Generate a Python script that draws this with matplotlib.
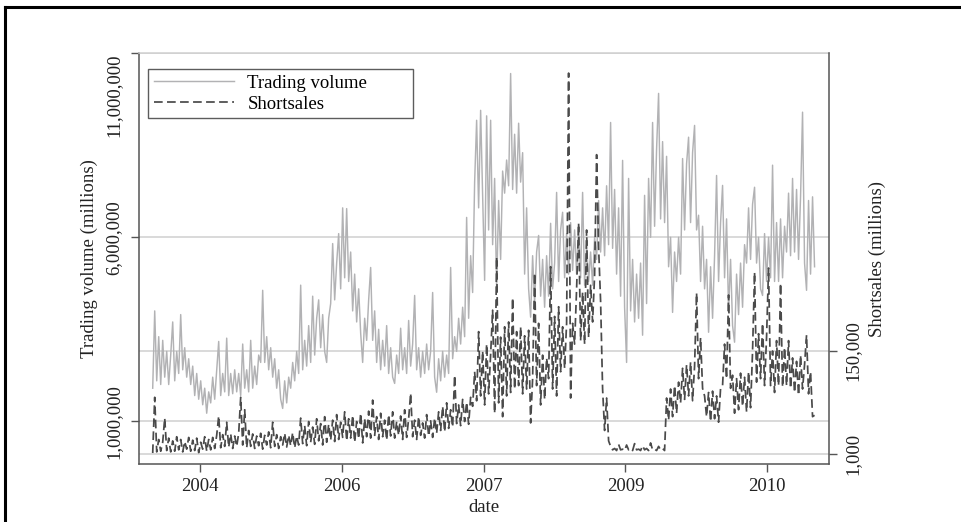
import numpy as np
import matplotlib
matplotlib.use("Agg")
import matplotlib.pyplot as plt
from matplotlib.lines import Line2D
from matplotlib.ticker import FuncFormatter
from matplotlib.transforms import blended_transform_factory

plt.rcParams["font.family"] = ["Liberation Serif", "DejaVu Serif"]

# time span of the sample (decimal years), equally spaced observations
t_start, t_end = 2004.10, 2011.10

# trading volume, millions of the axis unit
volume_mn = [
    1.9, 4.0, 2.1, 3.3, 2.0, 3.2, 2.2, 2.9, 2.0, 2.8,
    3.7, 2.1, 2.9, 2.3, 3.9, 2.4, 3.0, 2.2, 2.7, 2.0,
    2.5, 1.7, 2.3, 1.6, 2.1, 1.45, 1.9, 1.22, 1.8, 1.5,
    2.2, 1.6, 2.4, 3.17, 1.7, 2.3, 1.8, 3.26, 1.7, 2.3,
    1.75, 2.4, 1.8, 2.3, 1.7, 3.1, 1.9, 2.4, 1.8, 3.2,
    1.9, 2.5, 2.0, 2.8, 2.6, 4.56, 2.6, 3.3, 2.4, 3.0,
    2.2, 2.7, 1.9, 2.4, 1.6, 1.35, 2.1, 1.5, 2.2, 1.9,
    2.6, 2.1, 2.9, 2.3, 4.7, 2.4, 3.2, 2.5, 3.6, 2.6,
    4.4, 2.8, 3.8, 4.3, 3.0, 3.9, 2.9, 2.6, 3.8, 4.2,
    5.83, 4.3, 5.3, 6.1, 4.6, 6.8, 4.9, 6.78, 4.8, 5.6,
    4.0, 5.0, 3.7, 4.6, 3.4, 2.6, 3.8, 3.2, 4.3, 5.18,
    3.2, 4.0, 2.6, 3.5, 2.4, 3.2, 2.5, 3.6, 2.3, 3.0,
    2.2, 2.03, 2.8, 2.3, 3.53, 2.4, 3.0, 2.3, 3.74, 2.5,
    3.1, 4.42, 2.4, 3.0, 2.2, 2.9, 2.3, 3.1, 2.4, 2.9,
    4.5, 2.2, 1.79, 2.7, 2.1, 2.9, 2.2, 2.8, 2.3, 5.18,
    2.7, 3.3, 2.9, 3.8, 3.1, 4.1, 3.3, 6.54, 3.8, 5.5,
    4.5, 7.5, 9.18, 6.8, 9.45, 7.2, 4.83, 9.3, 6.2, 9.18,
    5.8, 7.6, 4.6, 7.0, 5.4, 7.8, 7.2, 8.1, 7.4, 10.45,
    7.3, 8.8, 7.2, 9.1, 7.5, 8.3, 5.0, 6.8, 4.6, 3.83,
    5.5, 4.2, 5.6, 6.05, 4.4, 5.4, 4.1, 5.5, 4.4, 6.38,
    4.6, 5.3, 7.22, 4.8, 6.2, 6.68, 4.9, 6.1, 5.0, 6.4,
    5.1, 6.2, 5.0, 6.3, 4.9, 7.22, 4.7, 5.8, 4.8, 5.6,
    4.7, 6.0, 5.4, 7.0, 5.6, 6.8, 5.5, 7.4, 5.8, 9.12,
    5.7, 7.3, 5.0, 6.8, 4.4, 8.09, 4.1, 2.6, 7.6, 4.0,
    5.4, 3.7, 5.0, 3.8, 5.3, 3.34, 7.14, 4.2, 7.6, 6.0,
    9.12, 6.3, 8.4, 9.91, 6.5, 8.6, 6.4, 8.2, 5.2, 6.0,
    3.96, 5.6, 4.8, 6.0, 5.0, 8.14, 6.2, 8.0, 8.72, 6.4,
    8.3, 9.04, 6.2, 6.6, 4.8, 6.3, 4.6, 5.4, 3.42, 5.2,
    3.8, 5.5, 7.68, 4.8, 6.4, 7.41, 4.9, 6.5, 4.0, 5.4,
    3.6, 3.15, 5.0, 3.9, 5.3, 4.1, 5.8, 5.3, 6.8, 5.4,
    6.9, 7.36, 5.3, 6.0, 4.6, 4.42, 6.1, 4.8, 6.0, 4.9,
    7.96, 4.8, 6.4, 4.8, 6.5, 4.9, 6.3, 5.6, 7.2, 5.5,
    7.6, 5.6, 7.3, 5.4, 7.1, 9.4, 5.3, 4.56, 7.0, 5.0,
    7.1, 5.2,
]

# short sales, thousands of the axis unit
short_k = [
    2.4, 83, 4, 22, 5, 18, 53, 6, 24, 4,
    20, 5, 26, 7, 22, 4, 19, 8, 25, 5,
    21, 6, 24, 3, 18, 8, 26, 5, 22, 7,
    25, 9, 28, 56, 10, 29, 12, 47, 11, 30,
    9, 27, 12, 31, 83, 14, 65, 10, 35, 12,
    30, 9, 27, 13, 31, 8, 28, 14, 33, 10,
    47, 12, 29, 9, 26, 14, 31, 11, 28, 13,
    32, 10, 27, 14, 53, 16, 42, 13, 48, 18,
    40, 15, 52, 20, 45, 14, 55, 18, 44, 21,
    50, 19, 58, 22, 47, 25, 62, 20, 52, 24,
    57, 18, 48, 23, 60, 17, 52, 26, 63, 24,
    79, 28, 55, 22, 60, 26, 50, 21, 58, 27,
    62, 24, 48, 28, 56, 22, 65, 25, 52, 89,
    26, 50, 22, 55, 28, 46, 24, 58, 27, 49,
    25, 53, 31, 62, 35, 70, 33, 75, 38, 65,
    40, 115, 45, 72, 42, 80, 48, 76, 44, 83,
    70, 120, 78, 178, 85, 150, 72, 160, 88, 145,
    209, 60, 286, 75, 170, 55, 185, 85, 192, 90,
    227, 95, 178, 100, 185, 88, 172, 95, 180, 46,
    110, 263, 100, 190, 72, 144, 80, 140, 110, 272,
    95, 200, 85, 214, 120, 185, 125, 190, 552, 82,
    190, 160, 240, 335, 165, 235, 160, 325, 170, 245,
    192, 260, 434, 300, 222, 95, 35, 82, 20, 12,
    7, 9, 6, 15, 7, 8, 6, 14, 7, 9,
    6, 16, 7, 8, 6, 13, 7, 9, 6, 17,
    7, 8, 6, 12, 7, 9, 6, 82, 50, 95,
    55, 100, 60, 105, 75, 125, 80, 130, 85, 134,
    78, 128, 234, 110, 169, 96, 85, 55, 90, 48,
    92, 52, 85, 47, 96, 100, 160, 110, 231, 96,
    115, 60, 110, 65, 118, 70, 112, 62, 120, 68,
    150, 264, 105, 175, 110, 190, 100, 170, 270, 100,
    150, 90, 165, 100, 248, 98, 155, 100, 165, 96,
    140, 90, 135, 86, 144, 95, 130, 173, 88, 120,
    55, 57,
]

tick_pos = [2004.6, 2006.1, 2007.6, 2009.1, 2010.6]
tick_labels = ["2004", "2006", "2007", "2009", "2010"]
vol_ticks = [1000000, 6000000, 11000000]
short_ticks = [1000, 150000]

volume = np.array(volume_mn) * 1e6
shorts = np.array(short_k) * 1e3
t = np.linspace(t_start, t_end, len(volume))

light = "#b2b2b4"
dark = "#4a4a4a"
axisc = "#555555"
gridc = "#cfcfcf"
txt = "#222222"
fs = 13.5

fig = plt.figure(figsize=(9.61, 5.22), dpi=100)
# outer frame of the graph
fig.add_artist(Line2D([5 / 961, 5 / 961], [0, 1 - 7 / 522], color="black", lw=2.2))
fig.add_artist(Line2D([5 / 961, 1], [1 - 7 / 522, 1 - 7 / 522], color="black", lw=2.2))

ax = fig.add_axes([139 / 961, 1 - 464.3 / 522, 690.3 / 961, 411 / 522])
ax2 = ax.twinx()

ax.set_xlim(2003.955, 2011.256)
ax.set_ylim(-0.168e6, 11e6)
ax2.set_ylim(-13900, 580650)

# gridlines under the data
ax.set_axisbelow(True)
ax.grid(axis="y", color=gridc, lw=1.1)
ax.grid(axis="x", visible=False)
tr = blended_transform_factory(ax.transAxes, ax2.transData)
for v in short_ticks:
    ax.add_line(Line2D([0, 1], [v, v], transform=tr, color=gridc, lw=1.1, zorder=0.5))

l1, = ax.plot(t, volume, color=light, lw=1.05, label="Trading volume")
l2, = ax2.plot(t, shorts, color=dark, lw=1.25, dashes=(5, 2.5), label="Shortsales")

fmt = FuncFormatter(lambda v, p: "{:,.0f}".format(v))
ax.set_yticks(vol_ticks)
ax.yaxis.set_major_formatter(fmt)
ax2.set_yticks(short_ticks)
ax2.yaxis.set_major_formatter(fmt)
ax.set_xticks(tick_pos)
ax.set_xticklabels(tick_labels)

for a in (ax, ax2):
    for s in a.spines.values():
        s.set_visible(False)
for s in ("left", "bottom", "top"):
    ax.spines[s].set_visible(True)
    ax.spines[s].set_linewidth(1.1)
ax.spines["left"].set_color(axisc)
ax.spines["bottom"].set_color(axisc)
ax.spines["top"].set_color(gridc)
ax2.spines["right"].set_visible(True)
ax2.spines["right"].set_color(axisc)
ax2.spines["right"].set_linewidth(1.1)

ax.tick_params(axis="both", direction="out", length=6, width=1, color=axisc,
               labelsize=fs, labelcolor=txt)
ax.tick_params(axis="x", pad=4)
ax.tick_params(axis="y", pad=6)
ax2.tick_params(axis="y", direction="out", length=6, width=1, color=axisc,
                labelsize=fs, labelcolor=txt, pad=5)
for lab in ax.get_yticklabels() + ax2.get_yticklabels():
    lab.set_rotation(90)
    lab.set_va("center")
ax.get_yticklabels()[-1].set_va("top")

ax.set_xlabel("date", fontsize=fs, color=txt, labelpad=3)
ax.set_ylabel("Trading volume (millions)", fontsize=fs, color=txt, labelpad=5)
ax2.set_ylabel("Shortsales (millions)", fontsize=fs, color=txt, labelpad=5)

leg = ax2.legend([l1, l2], ["Trading volume", "Shortsales"], loc="upper left",
                 bbox_to_anchor=(0.013, 0.8328, 0.384, 0.129), mode="expand",
                 fontsize=fs, frameon=True, fancybox=False, handlelength=4.3,
                 handletextpad=0.7, labelspacing=0.2, borderpad=0.3,
                 borderaxespad=0)
leg.get_frame().set_edgecolor("#333333")
leg.get_frame().set_linewidth(1.0)

fig.savefig("out.png", dpi=100)
